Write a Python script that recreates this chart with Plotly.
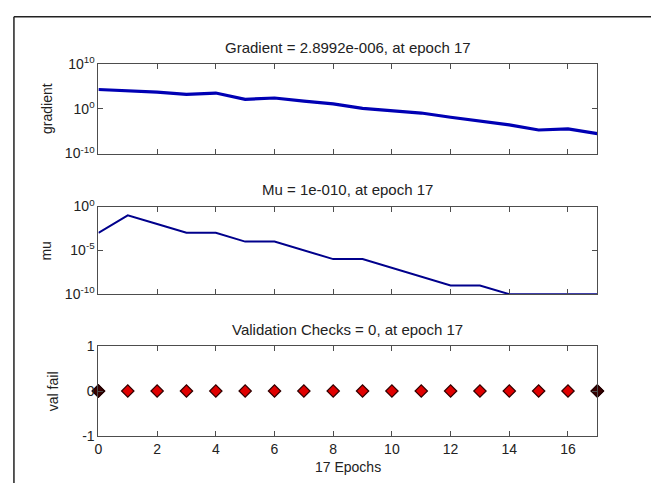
import plotly.graph_objects as go

# ---------------- data ----------------
epochs = list(range(18))
gradient = [2.0e4, 1.0e4, 5.0e3, 1.6e3, 3.2e3, 126, 250, 50, 12.6, 1.26,
            0.4, 0.11, 0.0126, 1.6e-3, 2.5e-4, 1.8e-5, 3.2e-5, 2.8992e-6]
mu = [1e-3, 1e-1, 1e-2, 1e-3, 1e-3, 1e-4, 1e-4, 1e-5, 1e-6, 1e-6,
      1e-7, 1e-8, 1e-9, 1e-9, 1e-10, 1e-10, 1e-10, 1e-10]
val_fail = [0] * 18

grad_ticks = [1e-10, 1e0, 1e10]
grad_ticktext = ["10<sup>-10</sup>", "10<sup>0</sup>", "10<sup>10</sup>"]
mu_ticks = [1e-10, 1e-5, 1e0]
mu_ticktext = ["10<sup>-10</sup>", "10<sup>-5</sup>", "10<sup>0</sup>"]
vf_ticks = [-1, 0, 1]
vf_ticktext = ["-1", "0", "1"]
x_ticks = [0, 2, 4, 6, 8, 10, 12, 14, 16]

titles = ["Gradient = 2.8992e-006, at epoch 17",
          "Mu = 1e-010, at epoch 17",
          "Validation Checks = 0, at epoch 17"]
ylabels = ["gradient", "mu", "val fail"]
xlabel = "17 Epochs"

# ---------------- layout geometry ----------------
W, H = 651, 491
def px(x):
    return x / W
def py(y):
    return 1 - y / H

xdom = [px(95), px(597)]
ydoms = [[py(149), py(56)], [py(295), py(204)], [py(442), py(349)]]

FONT = "Liberation Sans, Arial, sans-serif"
AXC = "#4d4d4d"
TXT = "#222"

fig = go.Figure()
fig.add_trace(go.Scatter(x=epochs, y=gradient, mode="lines",
                         line=dict(color="#0000b4", width=3.2),
                         xaxis="x", yaxis="y", showlegend=False))
fig.add_trace(go.Scatter(x=epochs, y=mu, mode="lines",
                         line=dict(color="#00008c", width=2),
                         xaxis="x2", yaxis="y2", showlegend=False))
fig.add_trace(go.Scatter(x=epochs, y=val_fail, mode="markers",
                         marker=dict(symbol="diamond", size=9.5, color="#e00000",
                                     line=dict(color="#300000", width=1.2)),
                         xaxis="x3", yaxis="y3", showlegend=False, cliponaxis=False))
fig.add_trace(go.Scatter(x=[epochs[0], epochs[-1]], y=[val_fail[0], val_fail[-1]],
                         mode="markers",
                         marker=dict(symbol="diamond", size=9.5, color="#3a0000",
                                     line=dict(color="#200000", width=1.2)),
                         xaxis="x3", yaxis="y3", showlegend=False, cliponaxis=False))

common_x = dict(domain=xdom, range=[0, 17], showline=True, linecolor=AXC, linewidth=1,
                mirror="ticks", ticks="inside", ticklen=5, tickcolor=AXC,
                tickvals=x_ticks, showgrid=False, zeroline=False,
                tickfont=dict(family=FONT, size=14, color=TXT))
common_y = dict(showline=True, linecolor=AXC, linewidth=1, mirror="ticks",
                ticks="inside", ticklen=5, tickcolor=AXC, showgrid=False,
                zeroline=False, tickfont=dict(family=FONT, size=14, color=TXT))

fig.update_layout(
    width=W, height=H, margin=dict(l=0, r=0, t=0, b=0),
    paper_bgcolor="white", plot_bgcolor="white",
    xaxis=dict(**common_x, anchor="y", showticklabels=False),
    yaxis=dict(**common_y, domain=ydoms[0], type="log", range=[-10, 10],
               tickvals=grad_ticks, ticktext=grad_ticktext, anchor="x"),
    xaxis2=dict(**common_x, anchor="y2", showticklabels=False),
    yaxis2=dict(**common_y, domain=ydoms[1], type="log", range=[-10, 0],
                tickvals=mu_ticks, ticktext=mu_ticktext, anchor="x2"),
    xaxis3=dict(**common_x, anchor="y3", showticklabels=True),
    yaxis3=dict(**common_y, domain=ydoms[2], range=[-1, 1],
                tickvals=vf_ticks, ticktext=vf_ticktext, anchor="x3"),
)

anns = []
title_y = [39, 186, 332]
for t, yy in zip(titles, title_y):
    anns.append(dict(text=t, x=px(346), y=py(yy), xref="paper", yref="paper",
                     showarrow=False, xanchor="center", yanchor="middle",
                     font=dict(family=FONT, size=15, color=TXT)))
ylab_x = [44, 42, 50]
ylab_y = [102, 250, 396]
for t, xx, yy in zip(ylabels, ylab_x, ylab_y):
    anns.append(dict(text=t, x=px(xx), y=py(yy), xref="paper", yref="paper",
                     showarrow=False, xanchor="center", yanchor="middle", textangle=-90,
                     font=dict(family=FONT, size=14, color=TXT)))
anns.append(dict(text=xlabel, x=px(346), y=py(474), xref="paper", yref="paper",
                 showarrow=False, xanchor="center", yanchor="middle",
                 font=dict(family=FONT, size=14, color=TXT)))
fig.update_layout(annotations=anns)

# outer frame (left and top edges)
fig.add_shape(type="line", xref="paper", yref="paper", x0=px(10), x1=px(10),
              y0=0, y1=py(7), line=dict(color="#222", width=1.5))
fig.add_shape(type="line", xref="paper", yref="paper", x0=px(10), x1=1,
              y0=py(7), y1=py(7), line=dict(color="#222", width=1.5))

fig.write_html("out.html",
               config={"displayModeBar": False},
               post_script="document.body.style.margin='0';"
                           "document.body.style.overflow='hidden';")
